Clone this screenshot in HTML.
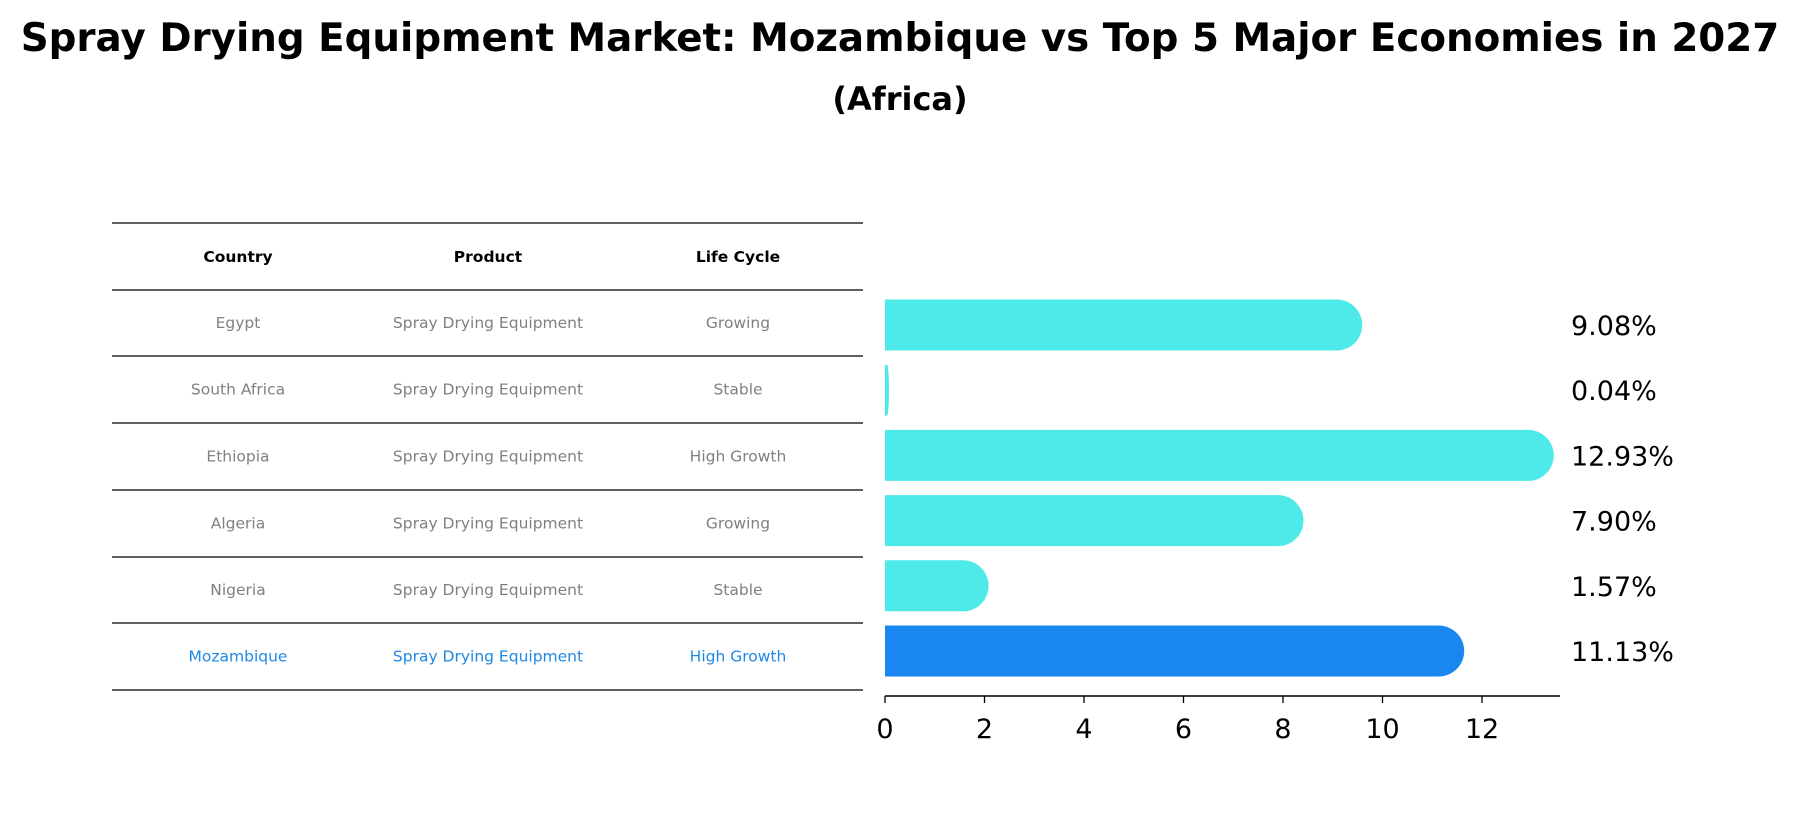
<!DOCTYPE html>
<html><head><meta charset="utf-8"><style>
body{margin:0;background:#fff;}
svg text{font-family:"DejaVu Sans","Liberation Sans",sans-serif;}
</style></head><body>
<svg width="1800" height="823" viewBox="0 0 1800 823" xmlns="http://www.w3.org/2000/svg">
<text x="900" y="51" text-anchor="middle" font-size="38.8" font-weight="bold">Spray Drying Equipment Market: Mozambique vs Top 5 Major Economies in 2027</text>
<text x="900" y="110" text-anchor="middle" font-size="32" font-weight="bold">(Africa)</text>
<g id="table"></g>
<g id="bars"></g>
</svg>
<script>
const countries=["Egypt","South Africa","Ethiopia","Algeria","Nigeria","Mozambique"];
const products=["Spray Drying Equipment","Spray Drying Equipment","Spray Drying Equipment","Spray Drying Equipment","Spray Drying Equipment","Spray Drying Equipment"];
const lifeCycles=["Growing","Stable","High Growth","Growing","Stable","High Growth"];
const values=[9.08,0.04,12.93,7.90,1.57,11.13];
const valueLabels=["9.08%","0.04%","12.93%","7.90%","1.57%","11.13%"];
const xTicks=[0,2,4,6,8,10,12];
const highlight="Mozambique";

const NS="http://www.w3.org/2000/svg";
function mk(tag,attrs,parent,txt){const e=document.createElementNS(NS,tag);for(const k in attrs)e.setAttribute(k,attrs[k]);if(txt!==undefined)e.textContent=txt;parent.appendChild(e);return e;}
const tbl=document.getElementById('table');
const lineYs=[223,290,356,423,490,557,623,690];
const colX=[238,488,738];
lineYs.forEach((y,i)=>{
  const l=mk('line',{x1:112,x2:863,y1:y,y2:y,stroke:'#000','stroke-width':1.2},tbl);
  
  
});
const headers=["Country","Product","Life Cycle"];
headers.forEach((h,i)=>{
  const t=mk('text',{x:colX[i],y:262,'text-anchor':'middle','font-size':15.5,'font-weight':'bold'},tbl,h);
  
  
});
countries.forEach((c,i)=>{
  const y=(lineYs[i+1]+lineYs[i+2])/2+5;
  const col=c===highlight?'#1e88e5':'#808080';
  [c,products[i],lifeCycles[i]].forEach((v,j)=>{
    const t=mk('text',{x:colX[j],y:y,'text-anchor':'middle','font-size':15.5,fill:col},tbl,v);
    
    
  });
});
const g=document.getElementById('bars');
const x0=885, xPer=(1482-885)/12;
const xs=v=>x0+v*xPer;
const firstCenter=325, bandH=65.2, barH=51;
values.forEach((v,i)=>{
  const cy=firstCenter+bandH*i;
  const col=countries[i]===highlight?'#1a87f0':'#4eeaea';
  const w=xs(v)-x0;
  const r=Math.min(barH/2,w);
  const p=mk('path',{d:`M${x0},${cy-barH/2} H${xs(v)} A${r},${barH/2} 0 0 1 ${xs(v)},${cy+barH/2} H${x0} Z`,fill:col},g);
  
  
  const t=mk('text',{x:1571,y:cy+10,'font-size':27},g,valueLabels[i]);
  
  
});
const ax=mk('line',{x1:x0,x2:1560,y1:696,y2:696,stroke:'#000','stroke-width':1.5},g);


xTicks.forEach(v=>{
  const tk=mk('line',{x1:xs(v),x2:xs(v),y1:696,y2:703,stroke:'#000','stroke-width':1.3},g);
  
  
  const t=mk('text',{x:xs(v),y:738,'text-anchor':'middle','font-size':27},g,String(v));
  
  
});
</script>
</body></html>
